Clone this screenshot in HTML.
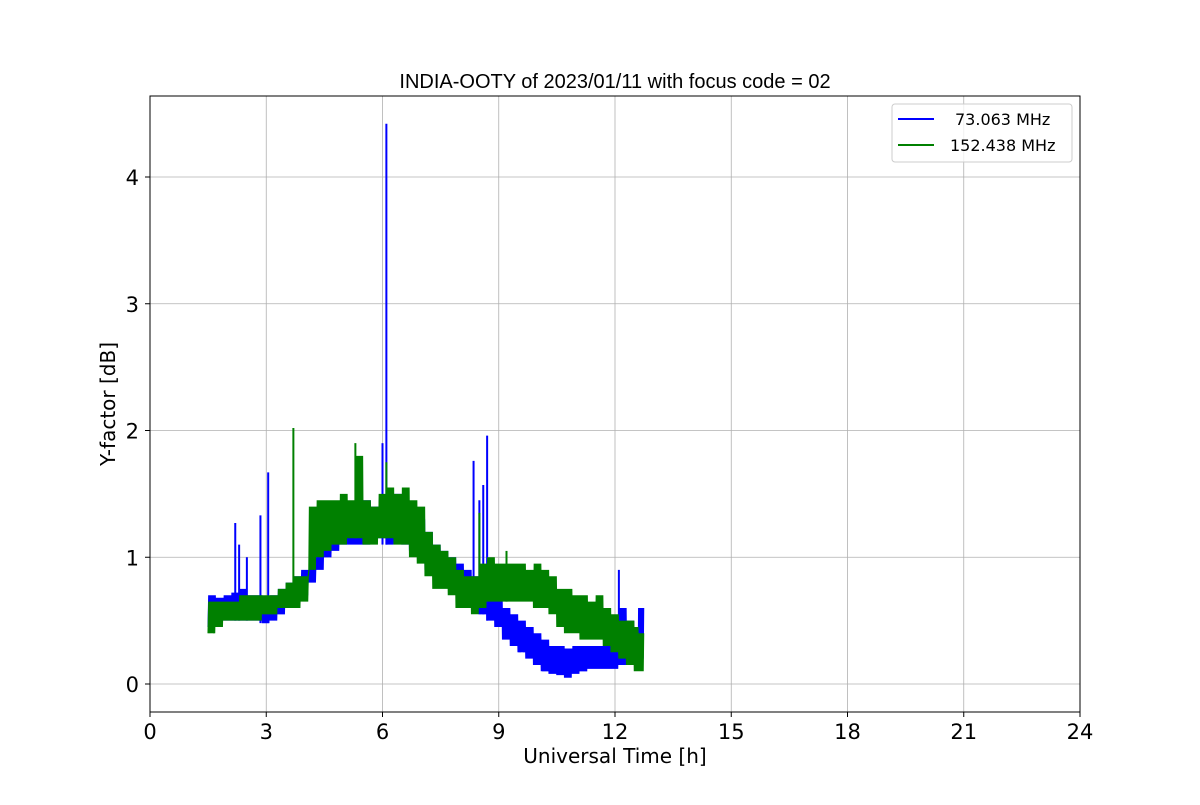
<!DOCTYPE html>
<html><head><meta charset="utf-8"><style>
body{margin:0;background:#fff;font-family:"Liberation Sans","DejaVu Sans",sans-serif}
svg text{font-family:"DejaVu Sans","Liberation Sans",sans-serif}
</style></head><body>
<svg id="chart" width="1200" height="800" xmlns="http://www.w3.org/2000/svg">
<rect width="1200" height="800" fill="#fff"/>
<g id="grid"></g>
<g id="series"></g>
<rect x="150" y="96" width="930" height="616" fill="none" stroke="#000" stroke-width="1"/>
<g id="ticks"></g>
<text x="615" y="88" font-size="20" text-anchor="middle" style="font-family:'Liberation Sans','DejaVu Sans',sans-serif">INDIA-OOTY of 2023/01/11 with focus code = 02</text>
<text x="615" y="763" font-size="20" text-anchor="middle">Universal Time [h]</text>
<text x="115" y="404" font-size="20" text-anchor="middle" transform="rotate(-90 115 404)">Y-factor [dB]</text>
<g>
<rect x="892" y="104" width="180" height="58" rx="3" fill="#fff" fill-opacity="0.8" stroke="#ccc"/>
<g><line x1="898" y1="119" x2="934" y2="119" stroke="#0000ff" stroke-width="2"/><text x="955" y="125" font-size="16">73.063 MHz</text></g>
<g><line x1="898" y1="145" x2="934" y2="145" stroke="#008000" stroke-width="2"/><text x="950" y="151" font-size="16">152.438 MHz</text></g>
</g>
</svg>
<script>
const xTicks=[0,3,6,9,12,15,18,21,24];
const yTicks=[0,1,2,3,4];
const times=[1.5,1.7,1.9,2.1,2.3,2.5,2.7,2.9,3.1,3.3,3.5,3.7,3.9,4.1,4.3,4.5,4.7,4.9,5.1,5.3,5.5,5.7,5.9,6.1,6.3,6.5,6.7,6.9,7.1,7.3,7.5,7.7,7.9,8.1,8.3,8.5,8.7,8.9,9.1,9.3,9.5,9.7,9.9,10.1,10.3,10.5,10.7,10.9,11.1,11.3,11.5,11.7,11.9,12.1,12.3,12.5,12.6];
const blueLo=[.45,.48,.5,.5,.5,.5,.5,.48,.5,.55,.6,.62,.7,.8,.9,1.0,1.05,1.1,1.1,1.1,1.1,1.15,1.15,1.1,1.15,1.1,1.05,1.0,.9,.85,.8,.75,.7,.65,.6,.55,.5,.45,.35,.3,.25,.2,.15,.1,.08,.07,.05,.08,.1,.12,.12,.12,.12,.15,.15,.15,.2];
const blueHi=[.7,.68,.7,.72,.75,.7,.7,.68,.7,.75,.8,.85,.9,1.0,1.15,1.25,1.3,1.35,1.4,1.4,1.45,1.4,1.45,1.45,1.5,1.4,1.35,1.3,1.2,1.1,1.05,1.0,.95,.9,.85,.8,.75,.7,.6,.55,.5,.45,.4,.35,.3,.3,.28,.3,.3,.3,.3,.35,.35,.6,.5,.45,.6];
const greenLo=[.4,.45,.5,.5,.5,.5,.5,.55,.55,.6,.6,.6,.65,.9,1.0,1.05,1.1,1.1,1.15,1.15,1.1,1.1,1.15,1.15,1.1,1.1,1.0,.95,.85,.75,.75,.7,.6,.6,.55,.6,.65,.65,.65,.65,.65,.65,.6,.6,.55,.45,.4,.4,.35,.35,.35,.3,.25,.2,.15,.1,.1];
const greenHi=[.65,.65,.65,.65,.7,.7,.7,.7,.7,.75,.8,.85,.85,1.4,1.45,1.45,1.45,1.5,1.45,1.8,1.45,1.4,1.5,1.55,1.5,1.55,1.45,1.4,1.2,1.1,1.05,1.0,.9,.85,.85,.95,1.0,.95,.95,.95,.95,.9,.95,.9,.85,.75,.75,.7,.7,.65,.7,.6,.55,.5,.5,.45,.4];
const blueSpikeT=[2.2,2.3,2.5,2.85,3.05,6.0,6.1,8.35,8.5,8.6,8.7,12.1];
const blueSpikeV=[1.27,1.1,1.0,1.33,1.67,1.9,4.42,1.76,1.45,1.57,1.96,0.9];
const greenSpikeT=[3.7,5.3,6.1,8.5,9.2];
const greenSpikeV=[2.02,1.9,1.75,1.35,1.05];
const NS="http://www.w3.org/2000/svg";
const X=t=>150+t*930/24, Y=v=>684-v*126.75;
function mk(tag,attrs,parent){const e=document.createElementNS(NS,tag);for(const k in attrs)e.setAttribute(k,attrs[k]);parent.appendChild(e);return e;}
const grid=document.getElementById('grid'),ticks=document.getElementById('ticks'),ser=document.getElementById('series');
xTicks.forEach(t=>{
 const g=mk('line',{x1:X(t),x2:X(t),y1:96,y2:712,stroke:'#b0b0b0','stroke-width':0.8},grid);
 
 
 mk('line',{x1:X(t),x2:X(t),y1:712,y2:717,stroke:'#000'},ticks);
 const l=mk('text',{x:X(t),y:739,'font-size':21,'text-anchor':'middle'},ticks);l.textContent=t;
 
 
});
yTicks.forEach(v=>{
 const g=mk('line',{x1:150,x2:1080,y1:Y(v),y2:Y(v),stroke:'#b0b0b0','stroke-width':0.8},grid);
 
 
 mk('line',{x1:145,x2:150,y1:Y(v),y2:Y(v),stroke:'#000'},ticks);
 const l=mk('text',{x:139,y:Y(v)+8,'font-size':21,'text-anchor':'end'},ticks);l.textContent=v;
 
 
});
function series(lo,hi,st,sv,color,name){
 let pts=[];
 for(let i=0;i<times.length;i++){
  const span=(i<times.length-1?times[i+1]-times[i]:0.15);
  const n=12, dt=span/n;
  for(let k=0;k<n;k++){
   const t=times[i]+k*dt;
   pts.push(X(t).toFixed(1)+','+Y(k%2?hi[i]:lo[i]).toFixed(1));
  }
 }
 const p=mk('polyline',{points:pts.join(' '),fill:'none',stroke:color,'stroke-width':1.3},ser);
 
 
 st.forEach((t,i)=>{
  const j=Math.min(times.length-1,Math.max(0,Math.round((t-1.5)/0.2)));
  const s=mk('line',{x1:X(t),x2:X(t),y1:Y(lo[j]),y2:Y(sv[i]),stroke:color,'stroke-width':2},ser);
  
  
 });
}
series(blueLo,blueHi,blueSpikeT,blueSpikeV,'#0000ff','series-73mhz');
series(greenLo,greenHi,greenSpikeT,greenSpikeV,'#008000','series-152mhz');
</script>
</body></html>
